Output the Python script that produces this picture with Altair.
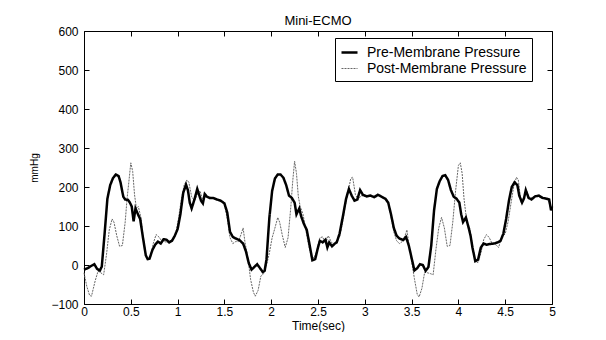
import altair as alt
import pandas as pd

PRE = "Pre-Membrane Pressure"
POST = "Post-Membrane Pressure"

t_pre = [0.00, 0.04, 0.08, 0.11, 0.14, 0.17, 0.19, 0.22, 0.25, 0.28, 0.31, 0.34, 0.37, 0.39,
         0.42, 0.44, 0.47, 0.49, 0.51, 0.53, 0.55, 0.58, 0.60, 0.63, 0.66, 0.68, 0.70, 0.73,
         0.76, 0.79, 0.82, 0.85, 0.88, 0.91, 0.94, 0.97, 1.00, 1.03, 1.06, 1.09, 1.11, 1.13,
         1.15, 1.18, 1.21, 1.23, 1.25, 1.27, 1.29, 1.31, 1.34, 1.38, 1.42, 1.46, 1.50, 1.53,
         1.56, 1.59, 1.62, 1.66, 1.70, 1.73, 1.76, 1.79, 1.82, 1.85, 1.88, 1.91, 1.93, 1.95,
         1.98, 2.01, 2.04, 2.07, 2.10, 2.13, 2.16, 2.19, 2.22, 2.25, 2.27, 2.30, 2.32, 2.35,
         2.38, 2.41, 2.44, 2.47, 2.50, 2.52, 2.55, 2.58, 2.60, 2.62, 2.65, 2.68, 2.70, 2.73,
         2.77, 2.80, 2.83, 2.86, 2.89, 2.92, 2.95, 2.98, 3.02, 3.06, 3.10, 3.14, 3.18, 3.22,
         3.25, 3.28, 3.31, 3.34, 3.37, 3.41, 3.44, 3.47, 3.50, 3.53, 3.56, 3.59, 3.62, 3.65,
         3.68, 3.71, 3.74, 3.77, 3.80, 3.83, 3.86, 3.89, 3.92, 3.95, 3.98, 4.01, 4.03, 4.05,
         4.08, 4.11, 4.13, 4.15, 4.18, 4.21, 4.24, 4.27, 4.30, 4.34, 4.38, 4.42, 4.45, 4.48,
         4.51, 4.54, 4.57, 4.60, 4.63, 4.65, 4.68, 4.70, 4.72, 4.75, 4.78, 4.82, 4.86, 4.90,
         4.94, 4.97, 4.99, 5.00]
pre = [-12, -8, -2, 2, -10, -14, -4, 80, 170, 205, 223, 232, 228, 212,
       175, 168, 167, 160, 150, 112, 145, 128, 118, 70, 25, 15, 16, 38,
       52, 60, 55, 66, 65, 58, 62, 75, 92, 130, 185, 206, 192, 160,
       145, 168, 195, 180, 165, 158, 182, 176, 172, 172, 168, 165, 158, 135,
       85, 72, 68, 64, 55, 35, 5, -12, -5, 2, -8, -18, -15, 15,
       120, 190, 222, 232, 232, 224, 205, 178, 172, 160, 130, 145, 125, 105,
       90, 52, 12, 15, 45, 62, 58, 65, 45, 58, 48, 55, 58, 80,
       130, 170, 195, 178, 165, 168, 192, 180, 176, 178, 174, 180, 175, 170,
       160, 130, 95, 75, 68, 64, 72, 50, 18, -14, -8, 2, 0, -15,
       -5, 50, 140, 195, 215, 228, 230, 218, 192, 175, 170, 160, 130, 110,
       122, 95, 75, 45, 10, 14, 45, 55, 52, 54, 55, 58, 62, 80,
       118, 165, 200, 212, 205, 178, 160, 170, 192, 172, 168, 176, 178, 172,
       170, 168, 140, 150]

t_post = [0.00, 0.03, 0.06, 0.08, 0.10, 0.12, 0.15, 0.18, 0.21, 0.24, 0.27, 0.30, 0.32, 0.35,
          0.38, 0.41, 0.44, 0.46, 0.48, 0.50, 0.52, 0.54, 0.56, 0.58, 0.61, 0.63, 0.66, 0.68,
          0.71, 0.74, 0.77, 0.80, 0.83, 0.86, 0.89, 0.92, 0.95, 0.98, 1.01, 1.04, 1.07, 1.10,
          1.12, 1.15, 1.18, 1.21, 1.24, 1.27, 1.30, 1.34, 1.38, 1.42, 1.46, 1.50, 1.53, 1.56,
          1.59, 1.62, 1.65, 1.68, 1.70, 1.72, 1.75, 1.78, 1.81, 1.83, 1.86, 1.89, 1.92, 1.95,
          1.98, 2.01, 2.04, 2.07, 2.09, 2.12, 2.15, 2.18, 2.21, 2.23, 2.25, 2.27, 2.29, 2.31,
          2.34, 2.37, 2.40, 2.43, 2.46, 2.49, 2.52, 2.55, 2.58, 2.61, 2.64, 2.67, 2.70, 2.73,
          2.76, 2.79, 2.82, 2.85, 2.87, 2.90, 2.93, 2.96, 3.00, 3.05, 3.10, 3.15, 3.20, 3.25,
          3.28, 3.31, 3.34, 3.37, 3.40, 3.43, 3.45, 3.47, 3.50, 3.53, 3.56, 3.58, 3.61, 3.64,
          3.67, 3.70, 3.73, 3.76, 3.79, 3.82, 3.85, 3.88, 3.91, 3.94, 3.97, 4.00, 4.02, 4.04,
          4.06, 4.09, 4.12, 4.15, 4.18, 4.21, 4.24, 4.27, 4.30, 4.33, 4.36, 4.40, 4.43, 4.46,
          4.50, 4.53, 4.56, 4.59, 4.62, 4.64, 4.67, 4.70, 4.73, 4.76, 4.80, 4.85, 4.90, 4.95,
          4.98, 5.00]
post = [-20, -55, -78, -80, -60, -40, -16, -20, -25, 26, 90, 118, 110, 75,
        48, 50, 110, 170, 215, 262, 240, 180, 145, 150, 120, 75, 28, 15,
        22, 55, 78, 72, 62, 60, 58, 62, 68, 80, 120, 168, 205, 218,
        212, 175, 165, 180, 190, 165, 175, 174, 172, 170, 166, 155, 120, 70,
        55, 60, 60, 80, 95, 58, 20, -37, -70, -80, -65, -28, -22, 0,
        30, 70, 95, 122, 110, 75, 45, 70, 150, 215, 266, 235, 175, 150,
        130, 90, 50, 20, 18, 40, 70, 72, 55, 75, 60, 50, 62, 72,
        105, 150, 185, 222, 225, 180, 168, 178, 176, 178, 172, 178, 170, 158,
        125, 85, 62, 55, 60, 75, 90, 55, 10, -35, -75, -82, -60, -18,
        -20, -22, -25, 40, 95, 122, 95, 48, 50, 110, 190, 255, 262, 235,
        170, 110, 95, 50, 10, 6, 30, 65, 78, 70, 55, 52, 45, 70,
        80, 110, 155, 200, 225, 218, 160, 175, 190, 170, 174, 176, 170, 172,
        150, 145]

x_ticks = [0, 0.5, 1, 1.5, 2, 2.5, 3, 3.5, 4, 4.5, 5]
y_ticks = [-100, 0, 100, 200, 300, 400, 500, 600]

df = pd.concat([
    pd.DataFrame({"t": t_post, "v": post, "series": POST}),
    pd.DataFrame({"t": t_pre, "v": pre, "series": PRE}),
], ignore_index=True)

FONT = "Liberation Sans"
xs = alt.Scale(domain=[0, 5], nice=False, zero=False)
ys = alt.Scale(domain=[-100, 600], nice=False, zero=False)

common_axis = dict(grid=False, domain=False, tickSize=5, offset=-5, tickColor="black",
                   tickWidth=1, labelColor="black", labelFont=FONT, labelFontSize=12,
                   titleFont=FONT, titleColor="black", titleFontWeight="normal")

x_axis = alt.Axis(values=x_ticks, format="~g", labelPadding=2, title="Time(sec)",
                  titleFontSize=12, titlePadding=3, labelFlush=False, **common_axis)
y_axis = alt.Axis(values=y_ticks, format="d", labelPadding=6, title="mmHg",
                  titleFontSize=10, titlePadding=11, **common_axis)

LEG = dict(title=None, orient="none", legendX=251, legendY=7)
color = alt.Color("series:N", scale=alt.Scale(domain=[PRE, POST], range=["black", "#666666"]),
                  legend=alt.Legend(strokeColor="black", fillColor="white", padding=5,
                                    labelFont=FONT, labelFontSize=14, labelColor="black",
                                    symbolType="stroke", symbolSize=256, labelOffset=8,
                                    rowPadding=0, cornerRadius=0, **LEG))
width_enc = alt.StrokeWidth("series:N", scale=alt.Scale(domain=[PRE, POST], range=[2.5, 1]),
                            legend=alt.Legend(**LEG))
dash_enc = alt.StrokeDash("series:N", scale=alt.Scale(domain=[PRE, POST], range=[[1, 0], [2, 1]]),
                          legend=alt.Legend(**LEG))

post_layer = alt.Chart(df).transform_filter(alt.datum.series == POST).mark_line().encode(
    x=alt.X("t:Q", scale=xs, axis=x_axis),
    y=alt.Y("v:Q", scale=ys, axis=y_axis),
    color=color, strokeWidth=width_enc, strokeDash=dash_enc,
)
pre_layer = alt.Chart(df).transform_filter(alt.datum.series == PRE).mark_line().encode(
    x=alt.X("t:Q", scale=xs, axis=None),
    y=alt.Y("v:Q", scale=ys, axis=None),
    color=color, strokeWidth=width_enc, strokeDash=dash_enc,
)

frame_axis = dict(grid=False, domain=False, tickSize=5, offset=-5, tickColor="black",
                  labels=False, title=None)
frame_layer = alt.Chart(df).transform_filter(alt.datum.series == PRE).mark_line(opacity=0).encode(
    x=alt.X("t:Q", scale=xs, axis=alt.Axis(orient="top", values=x_ticks, **frame_axis)),
    y=alt.Y("v:Q", scale=ys, axis=alt.Axis(orient="right", values=y_ticks, **frame_axis)),
)

chart = alt.layer(post_layer, pre_layer, frame_layer).resolve_axis(
    x="independent", y="independent"
).properties(
    width=468, height=273,
    title=alt.TitleParams("Mini-ECMO", font=FONT, fontSize=13, fontWeight="normal",
                          color="black", offset=-3, anchor="middle"),
    autosize=alt.AutoSizeParams(type="none"),
    padding={"left": 76, "top": 23, "right": 30, "bottom": 28},
    background="white",
).configure_view(stroke="black", strokeWidth=1)

chart.save("out.html", embed_options={"renderer": "svg", "actions": False})
